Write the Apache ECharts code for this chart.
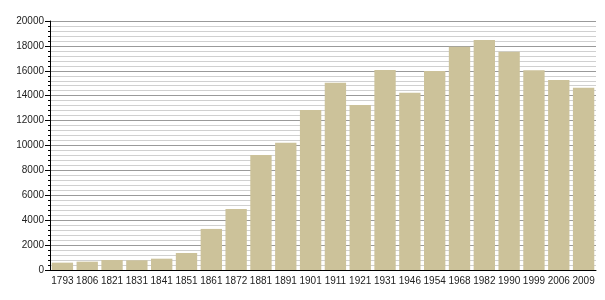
<!DOCTYPE html>
<html><head><meta charset="utf-8">
<script src="https://cdn.jsdelivr.net/npm/echarts@6/dist/echarts.min.js"></script>
<style>html,body{margin:0;padding:0;background:#fff}#c{width:605px;height:300px}</style>
</head><body><div id="c"></div>
<script>
const years = ['1793','1806','1821','1831','1841','1851','1861','1872','1881','1891','1901','1911','1921','1931','1946','1954','1968','1982','1990','1999','2006','2009'];
const population = [590,670,800,780,910,1365,3300,4900,9240,10220,12850,15050,13250,16060,14240,15980,17940,18470,17530,16050,15260,14640];
const chart = echarts.init(document.getElementById('c'), null, {renderer:'canvas'});
chart.setOption({
  animation:false,
  grid:{left:50,right:9,top:21,bottom:30},
  xAxis:{type:'category',data:years,
    axisLine:{lineStyle:{color:'#000',width:1}},
    axisTick:{show:false},
    axisLabel:{color:'#222',fontSize:10,fontFamily:'Liberation Sans, Arial, sans-serif',margin:6,interval:0}},
  yAxis:{type:'value',min:0,max:20000,interval:2000,
    axisLine:{show:true,lineStyle:{color:'#000',width:1}},
    axisTick:{show:true,length:5,lineStyle:{color:'#000'}},
    minorTick:{show:true,splitNumber:5,length:2,lineStyle:{color:'#000'}},
    splitLine:{show:true,lineStyle:{color:'#9a9a9a',width:1}},
    minorSplitLine:{show:true,lineStyle:{color:'#d0d0d0',width:1}},
    axisLabel:{color:'#222',fontSize:10,fontFamily:'Liberation Sans, Arial, sans-serif',margin:6,formatter:function(v){return String(v);}}},
  series:[{type:'bar',data:population,barCategoryGap:'14%',itemStyle:{color:'#ccc29a'}}]
});
</script></body></html>
